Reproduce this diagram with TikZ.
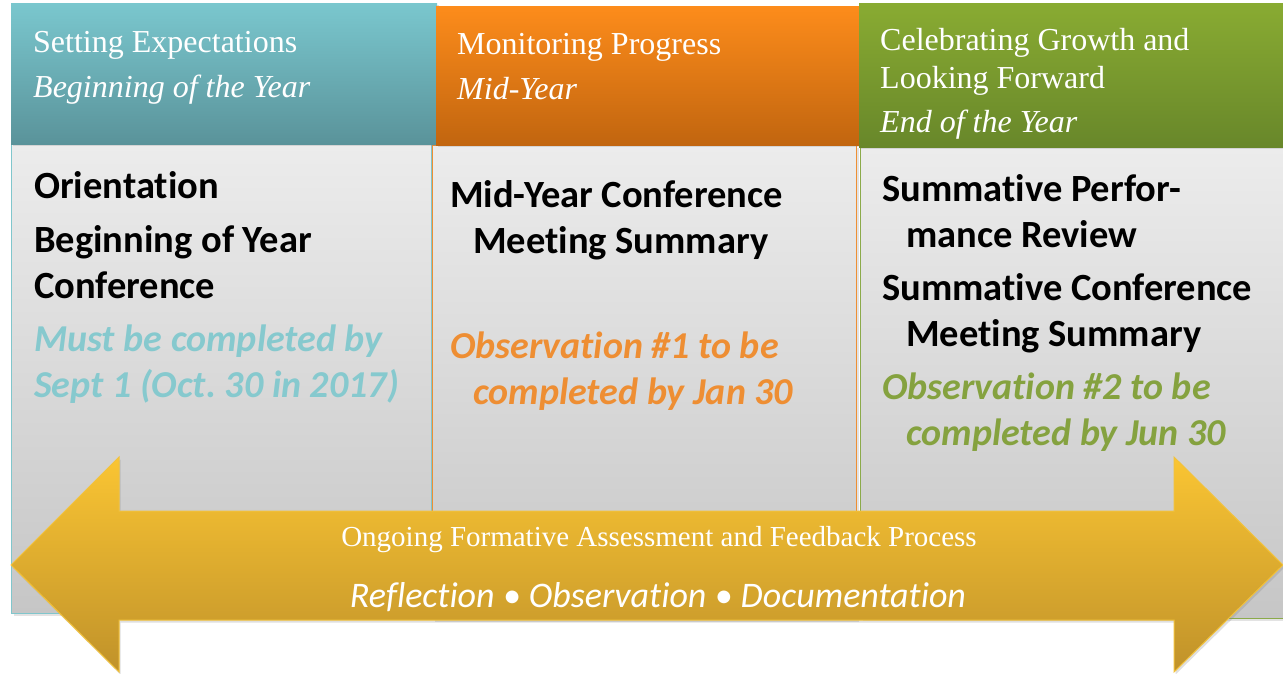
\documentclass[tikz,border=0pt]{standalone}
\usepackage{fontspec}
\setmainfont{Liberation Serif}
\newfontfamily\calib[Ligatures=NoCommon]{Carlito}
\usetikzlibrary{shadows}

% palette
\definecolor{tealTop}{HTML}{7AC7CE}
\definecolor{tealBot}{HTML}{5A939A}
\definecolor{tealLine}{HTML}{80C6CC}
\definecolor{tealText}{HTML}{86C9CE}
\definecolor{orgTop}{HTML}{FD8C1B}
\definecolor{orgBot}{HTML}{C1650F}
\definecolor{orgLine}{HTML}{EE8F33}
\definecolor{orgText}{HTML}{EE8E33}
\definecolor{grnTop}{HTML}{89AB32}
\definecolor{grnBot}{HTML}{68872A}
\definecolor{grnLine}{HTML}{8BAA4A}
\definecolor{grnText}{HTML}{85A23F}
\definecolor{bodyTop}{HTML}{ECECEC}
\definecolor{bodyBot}{HTML}{C6C6C6}
\definecolor{arrTop}{HTML}{FAC533}
\definecolor{arrBot}{HTML}{C0922A}
\definecolor{arrLine}{HTML}{F2C23C}

\tikzset{
  panel/.style={rectangle, inner sep=0pt, anchor=north west,
    drop shadow={opacity=0.22, shadow xshift=2pt, shadow yshift=-2pt}},
  header/.style={panel, draw=none},
  bodybox/.style={panel, top color=bodyTop, bottom color=bodyBot, line width=1.2pt},
  % multi-line texts are placed by the baseline of their last line
  hdtext/.style={anchor=base west, inner sep=0pt, align=left, text=white,
    font=\fontsize{32}{38}\selectfont},
  bdtext/.style={anchor=base west, inner sep=0pt, align=left, text=black,
    font=\calib\bfseries\fontsize{38.5}{46}\selectfont},
  bdnote/.style={bdtext, font=\calib\bfseries\itshape\fontsize{38}{46}\selectfont}
}

\begin{document}
\begin{tikzpicture}[x=1pt,y=-1pt]
\useasboundingbox[fill=white] (0,0) rectangle (1283,673);

% column bodies
\node[bodybox, draw=tealLine, minimum width=420pt, minimum height=469pt] (bA) at (11,144) {};
\node[bodybox, draw=orgLine, minimum width=424pt, minimum height=474pt] (bB) at (432,145) {};
\node[bodybox, draw=grnLine, minimum width=423pt, minimum height=471pt] (bC) at (860,147) {};

% column headers
\node[header, top color=tealTop, bottom color=tealBot, minimum width=426pt, minimum height=141pt] (hA) at (11,3) {};
\node[header, top color=orgTop, bottom color=orgBot, minimum width=423pt, minimum height=139pt] (hB) at (436,6) {};
\node[header, top color=grnTop, bottom color=grnBot, minimum width=424pt, minimum height=144pt] (hC) at (859,3) {};

% header captions
\node[hdtext] (tA) at (33,97) {Setting Expectations\\[7pt]\textit{Beginning of the Year}};
\node[hdtext] (tB) at (457,99) {Monitoring Progress\\[7pt]\textit{Mid-Year}};
\node[hdtext] (tC) at (880,132) {Celebrating Growth and\\Looking Forward\\[6pt]\textit{End of the Year}};

% first column
\node[bdtext] (oA) at (34,198) {Orientation};
\node[bdtext] (cA) at (34,298) {Beginning of Year\\Conference};
\node[bdnote, text=tealText] (dA) at (34,397) {Must be completed by\\Sept 1 (Oct.\ 30 in 2017)};

% second column
\node[bdtext] (mB) at (450,253) {Mid-Year Conference\\\hspace*{23pt}Meeting Summary};
\node[bdnote, text=orgText] (dB) at (450,404) {Observation \#1 to be\\\hspace*{23pt}completed by Jan 30};

% third column
\node[bdtext] (pC) at (882,247) {Summative Perfor-\\\hspace*{24pt}mance Review};
\node[bdtext] (mC) at (882,346) {Summative Conference\\\hspace*{24pt}Meeting Summary};
\node[bdnote, text=grnText] (dC) at (882,445) {Observation \#2 to be\\\hspace*{24pt}completed by Jun 30};

% double-headed process arrow
\path[top color=arrTop, bottom color=arrBot, draw=arrLine, line width=1pt, line join=miter,
      drop shadow={opacity=0.25, shadow xshift=1.5pt, shadow yshift=-2.5pt}]
  (11,565) -- (119,457) -- (119,511) -- (1174,511) -- (1174,457) -- (1283,565)
  -- (1174,672) -- (1174,620) -- (119,620) -- (119,672) -- cycle;

\node[anchor=base, inner sep=0pt, text=white, font=\fontsize{29}{34}\selectfont] (aT) at (659,546)
  {Ongoing Formative Assessment and Feedback Process};
\node[anchor=base, inner sep=0pt, text=white, font=\calib\itshape\fontsize{36}{40}\selectfont] (aS) at (658,607)
  {Reflection • Observation • Documentation};
\end{tikzpicture}
\end{document}
